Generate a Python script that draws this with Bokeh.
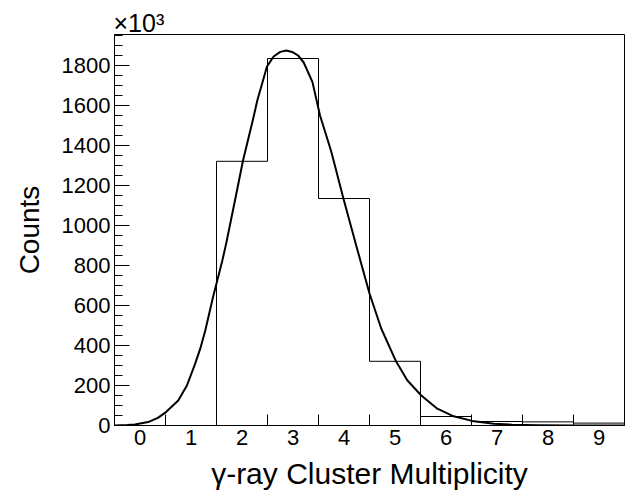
from bokeh.plotting import figure
from bokeh.models import FixedTicker, Range1d
from bokeh.embed import file_html
from bokeh.resources import INLINE

# Histogram: bin centres (multiplicity) and counts (x10^3)
bin_centers = [0, 1, 2, 3, 4, 5, 6, 7, 8, 9]
counts = [0, 0, 1321, 1835, 1135, 321, 45, 20, 18, 12]

# Fit curve points
curve_x = [-0.5, -0.25, -0.1, 0.16, 0.35, 0.51, 0.75, 0.92, 1.08, 1.18, 1.28,
           1.43, 1.61, 1.69, 1.85, 2.02, 2.22, 2.30, 2.49, 2.62, 2.75, 2.87,
           3.0, 3.1, 3.21, 3.38, 3.53, 3.75, 3.99, 4.25, 4.5, 4.73, 5.02,
           5.24, 5.51, 5.83, 6.15, 6.51, 6.94, 7.3, 7.8, 8.5, 9.5]
curve_y = [0, 2, 5, 17, 38, 67, 125, 200, 308, 383, 475,
           640, 820, 910, 1110, 1325, 1535, 1625, 1795, 1845, 1868, 1875,
           1866, 1850, 1815, 1718, 1550, 1370, 1134, 890, 660, 485, 321,
           226, 151, 84, 46, 23, 9, 4, 1.5, 0.3, 0]

x_tick_values = [0, 1, 2, 3, 4, 5, 6, 7, 8, 9]
x_minor_ticks = [-0.5, 0.5, 1.5, 2.5, 3.5, 4.5, 5.5, 6.5, 7.5, 8.5, 9.5]
y_tick_values = [0, 200, 400, 600, 800, 1000, 1200, 1400, 1600, 1800]
y_minor_ticks = list(range(0, 1951, 50))

FONT = "Liberation Sans"

p = figure(width=626, height=492, output_backend="svg", toolbar_location=None,
           x_range=Range1d(-0.5, 9.5), y_range=Range1d(0, 1955),
           min_border_left=114, min_border_right=2, min_border_top=34,
           min_border_bottom=67)
p.background_fill_color = "white"
p.border_fill_color = "white"
p.grid.visible = False
p.outline_line_color = "black"
p.outline_line_width = 1

# exponent marker, as in ROOT
p.title.text = "×10³"
p.title.align = "left"
p.title.offset = -1
p.title.standoff = -5
p.title.text_font = FONT
p.title.text_font_size = "25px"
p.title.text_font_style = "normal"
p.title.text_color = "black"

# histogram outline (step)
edges = [c - 0.5 for c in bin_centers] + [bin_centers[-1] + 0.5]
step_y = counts + [counts[-1]]
p.step(x=edges, y=step_y, mode="after", line_color="black", line_width=1)

# fit curve
p.line(curve_x, curve_y, line_color="black", line_width=2, line_join="round")

xa = p.xaxis[0]
xa.ticker = FixedTicker(ticks=x_tick_values, minor_ticks=x_minor_ticks)
xa.major_tick_in = 0
xa.major_tick_out = 0
xa.minor_tick_in = 11
xa.minor_tick_out = 0
xa.axis_line_color = "black"
xa.axis_line_width = 1
xa.major_label_text_font = FONT
xa.major_label_text_font_size = "22px"
xa.major_label_text_color = "black"
xa.major_label_standoff = 4
xa.axis_label = "γ-ray Cluster Multiplicity"
xa.axis_label_text_font = FONT
xa.axis_label_text_font_size = "30px"
xa.axis_label_text_font_style = "normal"
xa.axis_label_text_color = "black"
xa.axis_label_standoff = 9

ya = p.yaxis[0]
ya.ticker = FixedTicker(ticks=y_tick_values, minor_ticks=y_minor_ticks)
ya.major_tick_in = 15
ya.major_tick_out = 0
ya.minor_tick_in = 8
ya.minor_tick_out = 0
ya.axis_line_color = "black"
ya.axis_line_width = 1
ya.major_label_text_font = FONT
ya.major_label_text_font_size = "22px"
ya.major_label_text_color = "black"
ya.major_label_standoff = 4
ya.axis_label = "Counts"
ya.axis_label_text_font = FONT
ya.axis_label_text_font_size = "28px"
ya.axis_label_text_font_style = "normal"
ya.axis_label_text_color = "black"
ya.axis_label_standoff = 14

open("out.html", "w").write(file_html(p, INLINE))
